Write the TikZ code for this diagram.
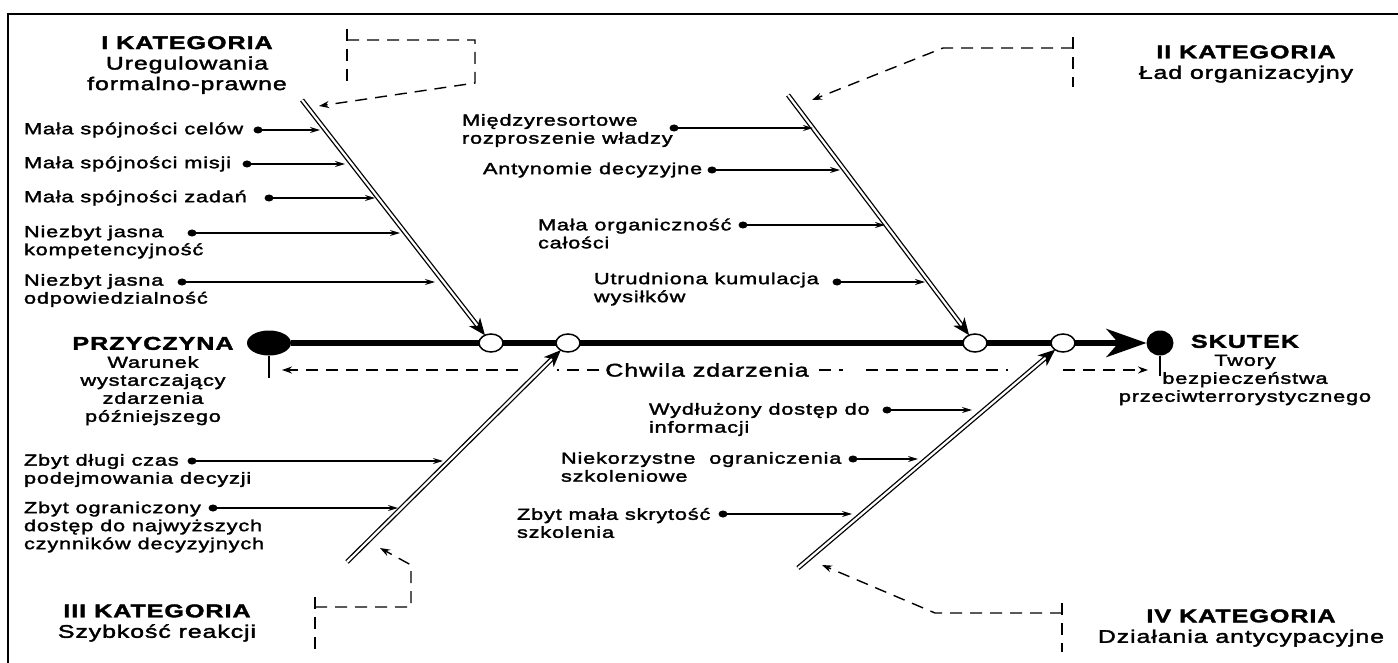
\documentclass[tikz,border=0pt]{standalone}
\usepackage{fontspec}
\setmainfont{Liberation Sans}[FakeStretch=1.36, LetterSpace=5, FakeBold=2]
\usetikzlibrary{arrows.meta,calc,shapes.geometric}
\begin{document}
\begin{tikzpicture}[x=1pt,y=-1pt,
  every node/.style={inner sep=0pt, outer sep=0pt},
  txt/.style={font=\fontsize{16}{18}\selectfont, align=left, anchor=west},
  ctr/.style={font=\fontsize{16}{18}\selectfont, align=center},
  kat/.style={font=\fontsize{18.3}{20.5}\selectfont, align=center},
  bul/.style={ellipse, fill=black, minimum width=9pt, minimum height=7pt},
  openc/.style={ellipse, draw, line width=1.5pt, fill=white, minimum width=24pt, minimum height=18pt},
  cause/.style={line width=1.4pt, -{Stealth[length=10pt,width=6pt]}},
  dsh/.style={line width=1.4pt, dash pattern=on 12pt off 8pt},
  dsharrow/.style={dsh, -{Stealth[length=10pt,width=7pt]}},
  bone/.style={double, line width=1.3pt, double distance=2.2pt, -{Stealth[length=17pt,width=14pt,inset=5pt]}},
  spine/.style={line width=6pt}]
\useasboundingbox (0,0) rectangle (1398,663);
\fill[white] (0,0) rectangle (1398,663);
% frame
\draw[line width=1.8pt] (8,663) -- (8,14) -- (1398,14);

% spine
\node[ellipse, fill=black, minimum width=44pt, minimum height=25pt] (cause) at (269,343) {};
\node[ellipse, fill=black, minimum width=27pt, minimum height=25pt] (effect) at (1160,343) {};
\node[openc] (o1) at (491,343) {};
\node[openc] (o2) at (568,343) {};
\node[openc] (o3) at (975,343) {};
\node[openc] (o4) at (1063,343) {};
\draw[spine] (cause) -- (o1);
\draw[spine] (o1) -- (o2);
\draw[spine] (o2) -- (o3);
\draw[spine] (o3) -- (o4);
\draw[spine, -{Stealth[length=40pt,width=28pt,inset=12pt]}] (o4) -- (effect);
\draw[line width=1.3pt] (cause.south) -- ++(0,22);
\draw[line width=1.3pt] (effect.south) -- ++(0,20);

% cause / effect texts
\node[ctr] (przyczyna) at (153,381) {{\fontsize{18.5}{18}\selectfont\bfseries PRZYCZYNA}\\Warunek\\wystarczający\\zdarzenia\\późniejszego};
\node[ctr] (skutek) at (1245,370) {{\fontsize{18.5}{18}\selectfont\bfseries SKUTEK}\\Twory\\bezpieczeństwa\\przeciwterrorystycznego};

% time line
\node[font=\fontsize{18.4}{20}\selectfont] (chwila) at (707,370) {Chwila zdarzenia};
\coordinate (tl1) at (557,370);
\coordinate (tl2) at (518,370);
\coordinate (tl3) at (282,370);
\coordinate (tr0) at (843,370);
\coordinate (tr0b) at (866,370);
\coordinate (tr1) at (1008,370);
\coordinate (tr2) at (1063,370);
\coordinate (tr3) at (1148,370);
\draw[dsh] ([xshift=-6pt]chwila.west) -- (tl1);
\draw[dsharrow] (tl2) -- (tl3);
\draw[dsh] ([xshift=10pt]chwila.east) -- (tr0);
\draw[dsh] (tr0b) -- (tr1);
\draw[dsharrow] (tr2) -- (tr3);

% bones
\coordinate (b1s) at (302,100);
\coordinate (b2s) at (788,95);
\coordinate (b3s) at (347,562);
\coordinate (b4s) at (798,568);
\draw[bone] (b1s) -- (o1);
\draw[bone] (b2s) -- (o3);
\draw[bone] (b3s) -- (o2);
\draw[bone] (b4s) -- (o4);

% category titles
\node[kat] (kat1) at (187,65) {{\fontsize{18.5}{20.5}\selectfont\bfseries I KATEGORIA}\\Uregulowania\\formalno-prawne};
\node[kat] (kat2) at (1246,64) {{\fontsize{18.5}{20.5}\selectfont\bfseries II KATEGORIA}\\Ład organizacyjny};
\node[kat] (kat3) at (157,623) {{\fontsize{18.5}{20.5}\selectfont\bfseries III KATEGORIA}\\Szybkość reakcji};
\node[kat] (kat4) at (1241,628) {{\fontsize{18.5}{20.5}\selectfont\bfseries IV KATEGORIA}\\Działania antycypacyjne};

% category dashed pointers
\coordinate (k1a) at (347,29); \coordinate (k1b) at (347,87);
\coordinate (k1c) at (347,40); \coordinate (k1d) at (475,40); \coordinate (k1e) at (475,83); \coordinate (k1f) at (319,106);
\draw[dsh] (k1a) -- (k1b);
\draw[dsharrow] (k1c) -- (k1d) -- (k1e) -- (k1f);
\coordinate (k2a) at (1073,37); \coordinate (k2b) at (1073,87);
\coordinate (k2c) at (1073,48); \coordinate (k2d) at (943,48); \coordinate (k2e) at (812,100);
\draw[dsh] (k2a) -- (k2b);
\draw[dsharrow] (k2c) -- (k2d) -- (k2e);
\coordinate (k3a) at (315,597); \coordinate (k3b) at (315,653);
\coordinate (k3c) at (315,607); \coordinate (k3d) at (411,607); \coordinate (k3e) at (411,565); \coordinate (k3f) at (380,548);
\draw[dsh] (k3a) -- (k3b);
\draw[dsharrow] (k3c) -- (k3d) -- (k3e) -- (k3f);
\coordinate (k4a) at (1062,603); \coordinate (k4b) at (1062,652);
\coordinate (k4c) at (1062,613); \coordinate (k4d) at (935,613); \coordinate (k4e) at (822,565);
\draw[dsh] (k4a) -- (k4b);
\draw[dsharrow] (k4c) -- (k4d) -- (k4e);

% causes, category I
\node[txt] (t1) at (24,130) {Mała spójności celów};
\node[bul] (d1) at (258,130) {}; \coordinate (e1) at (320,130);
\node[txt] (t2) at (24,164) {Mała spójności misji};
\node[bul] (d2) at (247,164) {}; \coordinate (e2) at (345,164);
\node[txt] (t3) at (24,198) {Mała spójności zadań};
\node[bul] (d3) at (269,198) {}; \coordinate (e3) at (375,198);
\node[txt] (t4) at (24,242) {Niezbyt jasna\\kompetencyjność};
\node[bul] (d4) at (192,233) {}; \coordinate (e4) at (400,233);
\node[txt] (t5) at (24,290.5) {Niezbyt jasna\\odpowiedzialność};
\node[bul] (d5) at (182,282) {}; \coordinate (e5) at (435,282);
% category II
\node[txt] (t6) at (462,130.5) {Międzyresortowe\\rozproszenie władzy};
\node[bul] (d6) at (674,128) {}; \coordinate (e6) at (813,128);
\node[txt] (t7) at (483,170) {Antynomie decyzyjne};
\node[bul] (d7) at (712,170) {}; \coordinate (e7) at (840,170);
\node[txt] (t8) at (538,233.5) {Mała organiczność\\całości};
\node[bul] (d8) at (743,225) {}; \coordinate (e8) at (885,225);
\node[txt] (t9) at (594,289) {Utrudniona kumulacja\\wysiłków};
\node[bul] (d9) at (837,282) {}; \coordinate (e9) at (925,282);
% category III
\node[txt] (t10) at (24,470.5) {Zbyt długi czas\\podejmowania decyzji};
\node[bul] (d10) at (192,461) {}; \coordinate (e10) at (443,461);
\node[txt] (t11) at (24,527) {Zbyt ograniczony\\dostęp do najwyższych\\czynników decyzyjnych};
\node[bul] (d11) at (213,508) {}; \coordinate (e11) at (398,508);
% category IV
\node[txt] (t12) at (649,419.5) {Wydłużony dostęp do\\informacji};
\node[bul] (d12) at (887,410) {}; \coordinate (e12) at (972,410);
\node[txt] (t13) at (561,467) {Niekorzystne~ ograniczenia\\szkoleniowe};
\node[bul] (d13) at (853,459) {}; \coordinate (e13) at (918,459);
\node[txt] (t14) at (517,523) {Zbyt mała skrytość\\szkolenia};
\node[bul] (d14) at (723,514) {}; \coordinate (e14) at (852,514);

\foreach \i in {1,...,14} {\draw[cause] (d\i.center) -- (e\i);}
\end{tikzpicture}
\end{document}
